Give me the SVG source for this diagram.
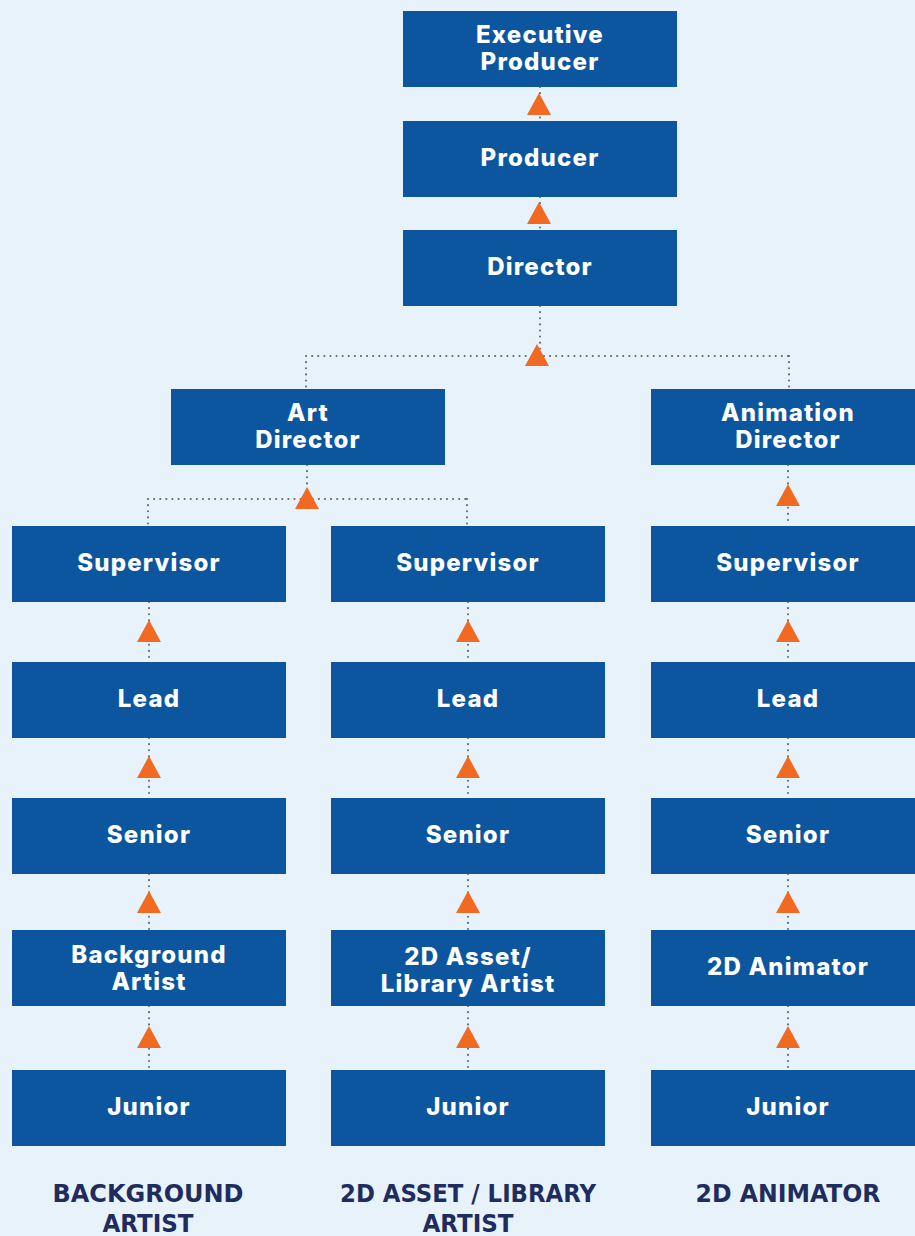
<svg xmlns="http://www.w3.org/2000/svg" width="915" height="1236" viewBox="0 0 915 1236">
<defs>
<style>
.bg{fill:#e8f2fa}
.node rect{fill:#0c56a0}
.node text{fill:#ffffff;font-family:Inter,"Noto Sans",sans-serif;font-weight:800;font-size:24px;letter-spacing:1.2px;text-anchor:middle;dominant-baseline:central}
.conn path{fill:none;stroke:#5c6670;stroke-width:2;stroke-dasharray:0.1 6;stroke-linecap:round}
.tri{fill:#f26a22}
.cap{fill:#1e2d5e;font-family:"DejaVu Sans Condensed","DejaVu Sans",sans-serif;font-weight:700;font-size:25px;text-anchor:middle}
</style>
<polygon id="t" class="tri" points="0,-11 12,11 -12,11"/>
</defs>
<rect class="bg" width="915" height="1236"/>
<g id="connectors" class="conn">
<path d="M540 87V121M540 197V230M540 306V356M306 356H789M306 356V389M789 356V389"/>
<path d="M307 465V499M148 499H467M148 499V526M467 499V526M788 465V526"/>
<path d="M149 602V662M149 738V798M149 874V930M149 1006V1070"/>
<path d="M468 602V662M468 738V798M468 874V930M468 1006V1070"/>
<path d="M788 602V662M788 738V798M788 874V930M788 1006V1070"/>
<use href="#t" x="539" y="104"/>
<use href="#t" x="539" y="213"/>
<use href="#t" x="537" y="355"/>
<use href="#t" x="307" y="498"/>
<use href="#t" x="788" y="495"/>
<use href="#t" x="149" y="631"/><use href="#t" x="468" y="631"/><use href="#t" x="788" y="631"/>
<use href="#t" x="149" y="767"/><use href="#t" x="468" y="767"/><use href="#t" x="788" y="767"/>
<use href="#t" x="149" y="902"/><use href="#t" x="468" y="902"/><use href="#t" x="788" y="902"/>
<use href="#t" x="149" y="1037"/><use href="#t" x="468" y="1037"/><use href="#t" x="788" y="1037"/>
</g>
<g id="exec" class="node"><rect x="403" y="11" width="274" height="76"/><text x="540" y="34">Executive</text><text x="540" y="61">Producer</text></g>
<g id="producer" class="node"><rect x="403" y="121" width="274" height="76"/><text x="540" y="157">Producer</text></g>
<g id="director" class="node"><rect x="403" y="230" width="274" height="76"/><text x="540" y="266">Director</text></g>
<g id="artdir" class="node"><rect x="171" y="389" width="274" height="76"/><text x="308" y="412">Art</text><text x="308" y="439">Director</text></g>
<g id="animdir" class="node"><rect x="651" y="389" width="274" height="76"/><text x="788" y="412">Animation</text><text x="788" y="439">Director</text></g>
<g id="sup1" class="node"><rect x="12" y="526" width="274" height="76"/><text x="149" y="562">Supervisor</text></g>
<g id="sup2" class="node"><rect x="331" y="526" width="274" height="76"/><text x="468" y="562">Supervisor</text></g>
<g id="sup3" class="node"><rect x="651" y="526" width="274" height="76"/><text x="788" y="562">Supervisor</text></g>
<g id="lead1" class="node"><rect x="12" y="662" width="274" height="76"/><text x="149" y="698">Lead</text></g>
<g id="lead2" class="node"><rect x="331" y="662" width="274" height="76"/><text x="468" y="698">Lead</text></g>
<g id="lead3" class="node"><rect x="651" y="662" width="274" height="76"/><text x="788" y="698">Lead</text></g>
<g id="senior1" class="node"><rect x="12" y="798" width="274" height="76"/><text x="149" y="834">Senior</text></g>
<g id="senior2" class="node"><rect x="331" y="798" width="274" height="76"/><text x="468" y="834">Senior</text></g>
<g id="senior3" class="node"><rect x="651" y="798" width="274" height="76"/><text x="788" y="834">Senior</text></g>
<g id="bgartist" class="node"><rect x="12" y="930" width="274" height="76"/><text x="149" y="954">Background</text><text x="149" y="981">Artist</text></g>
<g id="assetartist" class="node"><rect x="331" y="930" width="274" height="76"/><text x="468" y="956">2D Asset/</text><text x="468" y="983">Library Artist</text></g>
<g id="animator" class="node"><rect x="651" y="930" width="274" height="76"/><text x="788" y="966">2D Animator</text></g>
<g id="junior1" class="node"><rect x="12" y="1070" width="274" height="76"/><text x="149" y="1106">Junior</text></g>
<g id="junior2" class="node"><rect x="331" y="1070" width="274" height="76"/><text x="468" y="1106">Junior</text></g>
<g id="junior3" class="node"><rect x="651" y="1070" width="274" height="76"/><text x="788" y="1106">Junior</text></g>
<g id="captions">
<text class="cap" x="148" y="1202" textLength="191" lengthAdjust="spacingAndGlyphs">BACKGROUND</text>
<text class="cap" x="148" y="1232" textLength="91" lengthAdjust="spacingAndGlyphs">ARTIST</text>
<text class="cap" x="468" y="1202" textLength="256" lengthAdjust="spacingAndGlyphs">2D ASSET / LIBRARY</text>
<text class="cap" x="468" y="1232" textLength="91" lengthAdjust="spacingAndGlyphs">ARTIST</text>
<text class="cap" x="788" y="1202" textLength="185" lengthAdjust="spacingAndGlyphs">2D ANIMATOR</text>
</g>
</svg>
